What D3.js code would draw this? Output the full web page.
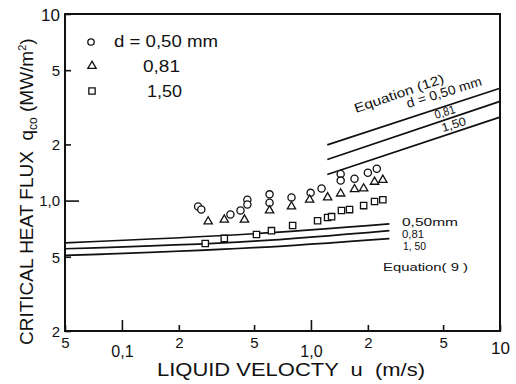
<!DOCTYPE html>
<html>
<head>
<meta charset="utf-8">
<script src="https://cdn.jsdelivr.net/npm/d3@7"></script>
<style>
  body { margin: 0; background: #fff; }
  svg text { font-family: "Liberation Sans", Arial, sans-serif; fill: #111; white-space: pre; }
</style>
</head>
<body>
<svg id="chart" width="516" height="384"></svg>
<script>
// axis ticks
const xTicks = [0.05, 0.1, 0.2, 0.5, 1, 2, 5, 10];
const xTickLabels = ['5', '0,1', '2', '5', '1,0', '2', '5', '10'];
const xMajor = [0.1, 1];
const yTicks = [0.2, 0.5, 1, 2, 5, 10];
const yTickLabels = ['2', '5', '1,0', '2', '5', '10'];
const yMajor = [1];

// measured points [u (m/s), q_co (MW/m2)]
const d050 = [[0.253, 0.929], [0.263, 0.895], [0.375, 0.842], [0.424, 0.885], [0.461, 1.01],
  [0.461, 0.953], [0.604, 1.08], [0.604, 0.975], [0.789, 1.04], [0.996, 1.10], [1.138, 1.16],
  [1.436, 1.39], [1.436, 1.28], [1.70, 1.31], [2.0, 1.41], [2.23, 1.48]];
const d081 = [[0.286, 0.772], [0.348, 0.79], [0.445, 0.79], [0.604, 0.885], [0.789, 0.929],
  [0.984, 1.01], [1.225, 1.04], [1.436, 1.09], [1.70, 1.15], [1.90, 1.16], [2.17, 1.26], [2.40, 1.29]];
const d150 = [[0.276, 0.589], [0.348, 0.627], [0.515, 0.658], [0.618, 0.69], [0.80, 0.735],
  [1.084, 0.78], [1.225, 0.811], [1.286, 0.82], [1.45, 0.885], [1.60, 0.895], [1.90, 0.94],
  [2.17, 0.988], [2.40, 1.01]];

// Equation (9) curves
const eq9U = [0.05, 0.5, 2.6];
const eq9Q050 = [0.594, 0.664, 0.750];
const eq9Q081 = [0.552, 0.606, 0.691];
const eq9Q150 = [0.508, 0.559, 0.626];

// Equation (12) curves
const eq12U = [1.22, 10];
const eq12Q050 = [1.99, 4.0];
const eq12Q081 = [1.66, 3.40];
const eq12Q150 = [1.38, 2.80];

const svg = d3.select('#chart');
svg.append('rect').attr('width', 516).attr('height', 384).attr('fill', '#fff');

const x = d3.scaleLog().domain([0.05, 10]).range([65, 500]);
const y = d3.scaleLog().domain([0.2, 10]).range([331, 14]);

// x axis, ticks pointing inward
const gx = svg.append('g')
  .attr('transform', 'translate(0,' + y(0.2) + ')')
  .call(d3.axisBottom(x).tickValues(xTicks)
    .tickFormat((d, i) => xTickLabels[i])
    .tickSizeOuter(0).tickSizeInner(-6));
gx.select('.domain').remove();
gx.selectAll('.tick line')
  .attr('stroke', '#111').attr('stroke-width', 1.6)
  .attr('y2', d => xMajor.includes(d) ? -11 : -6);
gx.selectAll('.tick text')
  .attr('dy', null)
  .attr('y', d => xMajor.includes(d) ? 26 : (d === 10 ? 23 : 17))
  .style('font-size', d => d === 10 ? '17px' : (xMajor.includes(d) ? '16px' : '15px'))
  .attr('fill', '#111');

// y axis, ticks pointing inward
const gy = svg.append('g')
  .attr('transform', 'translate(' + x(0.05) + ',0)')
  .call(d3.axisLeft(y).tickValues(yTicks)
    .tickFormat((d, i) => yTickLabels[i])
    .tickSizeOuter(0).tickSizeInner(-6));
gy.select('.domain').remove();
gy.selectAll('.tick line')
  .attr('stroke', '#111').attr('stroke-width', 1.6)
  .attr('x2', d => yMajor.includes(d) ? 14 : 6);
gy.selectAll('.tick text')
  .attr('x', -5)
  .attr('dy', '0.36em')
  .style('font-size', d => d === 10 ? '17px' : '15px')
  .attr('fill', '#111');

// frame
svg.append('rect')
  .attr('x', x(0.05)).attr('y', y(10))
  .attr('width', x(10) - x(0.05)).attr('height', y(0.2) - y(10))
  .attr('fill', 'none').attr('stroke', '#111').attr('stroke-width', 2);

// curves
const line = d3.line().x(d => x(d[0])).y(d => y(d[1])).curve(d3.curveMonotoneX);
[eq9Q050, eq9Q081, eq9Q150].forEach(q => {
  svg.append('path').datum(eq9U.map((u, i) => [u, q[i]]))
    .attr('d', line).attr('fill', 'none').attr('stroke', '#111').attr('stroke-width', 1.7);
});
[eq12Q050, eq12Q081, eq12Q150].forEach(q => {
  svg.append('path').datum(eq12U.map((u, i) => [u, q[i]]))
    .attr('d', line).attr('fill', 'none').attr('stroke', '#111').attr('stroke-width', 1.7);
});

// markers
const tri = d3.symbol(d3.symbolTriangle, 30);
const sq = d3.symbol(d3.symbolSquare, 40);
const marks = svg.append('g').attr('fill', '#fff').attr('stroke', '#111').attr('stroke-width', 1.3);
marks.selectAll('circle').data(d050).join('circle')
  .attr('cx', d => x(d[0])).attr('cy', d => y(d[1])).attr('r', 3.6);
marks.selectAll('path.tri').data(d081).join('path').attr('class', 'tri')
  .attr('d', tri).attr('transform', d => 'translate(' + x(d[0]) + ',' + y(d[1]) + ')');
marks.selectAll('path.sq').data(d150).join('path').attr('class', 'sq')
  .attr('d', sq).attr('transform', d => 'translate(' + x(d[0]) + ',' + y(d[1]) + ')');

// legend
const leg = svg.append('g');
leg.append('circle').attr('cx', 91).attr('cy', 42).attr('r', 3.2)
  .attr('fill', '#fff').attr('stroke', '#111').attr('stroke-width', 1.3);
leg.append('path').attr('d', tri).attr('transform', 'translate(92,66)')
  .attr('fill', '#fff').attr('stroke', '#111').attr('stroke-width', 1.3);
leg.append('path').attr('d', sq).attr('transform', 'translate(92,91)')
  .attr('fill', '#fff').attr('stroke', '#111').attr('stroke-width', 1.3);
leg.append('text').attr('x', 114).attr('y', 47).style('font-size', '16px')
  .attr('textLength', 104).attr('lengthAdjust', 'spacingAndGlyphs').text('d = 0,50 mm');
leg.append('text').attr('x', 143).attr('y', 72).style('font-size', '16px')
  .attr('textLength', 37).attr('lengthAdjust', 'spacingAndGlyphs').text('0,81');
leg.append('text').attr('x', 147).attr('y', 97).style('font-size', '16px')
  .attr('textLength', 35).attr('lengthAdjust', 'spacingAndGlyphs').text('1,50');

// Equation (12) labels
function rotLabel(px, py, ang, txt, len, fs) {
  svg.append('text').attr('transform', 'translate(' + px + ',' + py + ') rotate(' + ang + ')')
    .style('font-size', fs + 'px').attr('textLength', len).attr('lengthAdjust', 'spacingAndGlyphs')
    .text(txt);
}
rotLabel(356, 113, -19, 'Equation (12)', 94, 13);
rotLabel(408, 108, -17, 'd = 0,50 mm', 78, 13);
rotLabel(436, 119, -17, '0,81', 21, 12);
rotLabel(443, 132, -17, '1,50', 25, 12);

// Equation (9) labels
function label(px, py, txt, len) {
  svg.append('text').attr('x', px).attr('y', py).style('font-size', '11px')
    .attr('textLength', len).attr('lengthAdjust', 'spacingAndGlyphs').text(txt);
}
label(402, 226, '0,50mm', 56);
label(402, 238, '0,81', 22);
label(403, 250, '1, 50', 23);
label(383, 271, 'Equation( 9 )', 85);

// axis titles
svg.append('text').attr('x', 157).attr('y', 376).style('font-size', '19px')
  .attr('textLength', 268).attr('lengthAdjust', 'spacingAndGlyphs')
  .text('LIQUID VELOCTY  u  (m/s)');

const yt = svg.append('text')
  .attr('transform', 'translate(33,345) rotate(-90)')
  .style('font-size', '19px');
yt.append('tspan').text('CRITICAL HEAT FLUX  q');
yt.append('tspan').attr('dy', 4).style('font-size', '12px').text('co');
yt.append('tspan').attr('dy', -4).text(' (MW/m');
yt.append('tspan').attr('dy', -7).style('font-size', '11px').text('2');
yt.append('tspan').attr('dy', 7).text(')');
</script>
</body>
</html>
